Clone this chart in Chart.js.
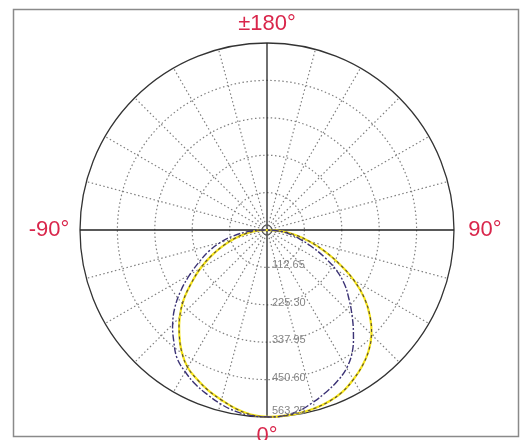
<!DOCTYPE html>
<html>
<head>
<meta charset="utf-8">
<script src="https://cdn.jsdelivr.net/npm/chart.js@4/dist/chart.umd.min.js"></script>
<style>
  html, body { margin: 0; padding: 0; background: #ffffff; }
  #wrap { width: 520px; height: 440px; }
</style>
</head>
<body>
<div id="wrap"><canvas id="polar" width="520" height="440"></canvas></div>
<script>
// Pattern angles (degrees, 0° points down, +90° to the right)
const ANGLE_DEG = [-90, -85, -80, -75, -70, -65, -60, -55, -50, -45, -40, -35, -30, -25, -20, -15, -10, -5,
                   0, 5, 10, 15, 20, 25, 30, 35, 40, 45, 50, 55, 60, 65, 70, 75, 80, 85, 90];

// Radial magnitude of each trace at those angles
const YELLOW_R = [0, 34, 68, 104, 142, 186, 232, 278, 328, 372, 411, 448, 478, 497, 515, 530, 546, 558,
                  563, 562, 560, 556, 549, 538, 520, 500, 476, 445, 405, 358, 302, 240, 183, 132, 87, 43, 0];
const PURPLE_R = [14, 58, 103, 146, 186, 224, 268, 316, 362, 402, 437, 472, 493, 512, 527, 542, 554, 561,
                  563, 562, 553, 537, 520, 502, 480, 448, 405, 362, 322, 285, 240, 188, 139, 100, 67, 33, 0];

// Radial rings and their labels
const RING_VALUES = [0, 112.65, 225.30, 337.95, 450.60, 563.25];
const RING_LABELS = ['', '112.65', '225.30', '337.95', '450.60', '563.25'];

// Compass labels around the rim
const RIM_ANGLES = [0, -90, 180, 90];
const RIM_TEXT = ['0°', '-90°', '±180°', '90°'];

const STEP = 5;                       // angular step of the radar directions
const N_DIR = 360 / STEP;

function normDeg(d) {
  d = ((d % 360) + 360) % 360;
  return d > 180 ? d - 360 : d;
}

// Direction i runs clockwise from the bottom: 0, -5, -10, ...
const dirDeg = Array.from({length: N_DIR}, (_, i) => normDeg(-STEP * i));
const dirLabels = dirDeg.map(d => d + '°');

function traceFor(values) {
  return dirDeg.map(d => {
    const k = ANGLE_DEG.indexOf(d);
    return k >= 0 ? values[k] : 0;
  });
}

const FONT = '"Liberation Sans", Arial, sans-serif';
const LAST_RING = RING_VALUES.length - 1;

const polarDecor = {
  id: 'polarDecor',
  afterDraw(chart) {
    const s = chart.scales.r;
    const ctx = chart.ctx;
    const cx = s.xCenter, cy = s.yCenter, R = s.drawingArea;
    ctx.save();

    // little circle at the pole
    ctx.strokeStyle = '#555';
    ctx.lineWidth = 1;
    ctx.beginPath();
    ctx.arc(cx, cy, 5, 0, Math.PI * 2);
    ctx.stroke();

    // ring values along the 0° spoke
    ctx.font = '11px ' + FONT;
    ctx.fillStyle = '#858585';
    ctx.textAlign = 'left';
    ctx.textBaseline = 'middle';
    RING_VALUES.forEach((v, i) => {
      if (!RING_LABELS[i]) return;
      const d = Math.min(s.getDistanceFromCenterForValue(v) - 2, R - 6);
      const p = s.getPointPosition(0, d);
      ctx.fillText(RING_LABELS[i], p.x + 5, p.y);
    });

    // frame
    ctx.strokeStyle = '#8a8a8a';
    ctx.lineWidth = 1.5;
    ctx.strokeRect(13.5, 9.5, 505, 427);

    // rim labels
    ctx.font = '22px ' + FONT;
    ctx.fillStyle = '#d9264b';
    ctx.textAlign = 'center';
    ctx.textBaseline = 'middle';
    RIM_ANGLES.forEach((a, k) => {
      const idx = dirDeg.indexOf(a);
      const horizontal = Math.abs(a) === 90;
      const p = s.getPointPosition(idx, R + (horizontal ? 31 : 19));
      ctx.fillText(RIM_TEXT[k], p.x, p.y);
    });
    ctx.restore();
  }
};

// Chart.js paints the first dataset last, so the yellow trace is listed last
new Chart(document.getElementById('polar'), {
  type: 'radar',
  data: {
    labels: dirLabels,
    datasets: [
      {
        data: traceFor(PURPLE_R),
        borderColor: '#3b3275',
        borderWidth: 1.4,
        borderDash: [7, 2, 2, 2],
        fill: false,
        pointRadius: 0,
        tension: 0.4
      },
      {
        data: traceFor(YELLOW_R),
        borderColor: 'rgba(70,58,55,0.9)',
        borderWidth: 1.1,
        borderDash: [3, 3],
        fill: false,
        pointRadius: 0,
        tension: 0.4
      },
      {
        data: traceFor(YELLOW_R),
        borderColor: '#f5e41a',
        borderWidth: 2.2,
        fill: false,
        pointRadius: 0,
        tension: 0.4
      }
    ]
  },
  options: {
    responsive: false,
    animation: false,
    devicePixelRatio: 1,
    layout: { padding: { left: 80, right: 66, top: 43, bottom: 22 } },
    plugins: { legend: { display: false }, tooltip: { enabled: false } },
    elements: { line: { borderJoinStyle: 'round' } },
    scales: {
      r: {
        min: 0,
        max: RING_VALUES[LAST_RING],
        startAngle: 180,
        afterBuildTicks(scale) {
          scale.ticks = RING_VALUES.map(v => ({ value: v }));
        },
        ticks: { display: false },
        pointLabels: { display: false },
        grid: {
          circular: true,
          color: c => c.index === LAST_RING ? '#333' : '#808080',
          lineWidth: c => c.index === LAST_RING ? 1.3 : 1.2
        },
        border: {
          dash: c => c.index === LAST_RING ? [] : [1.5, 2.5]
        },
        angleLines: {
          display: true,
          color: c => c.index % 18 === 0 ? '#222' : (c.index % 3 === 0 ? '#808080' : 'rgba(0,0,0,0)'),
          lineWidth: c => c.index % 3 === 0 ? (c.index % 18 === 0 ? 1.3 : 1.2) : 0,
          borderDash: c => c.index % 18 === 0 ? [] : [1.5, 2.5]
        }
      }
    }
  },
  plugins: [polarDecor]
});
</script>
</body>
</html>
